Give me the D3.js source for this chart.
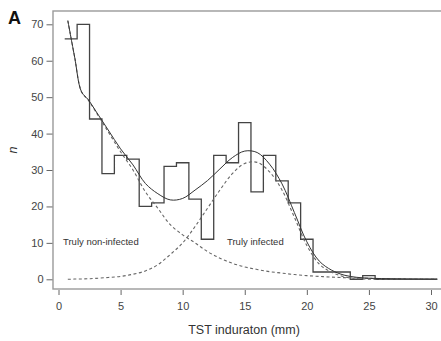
<!DOCTYPE html>
<html>
<head>
<meta charset="utf-8">
<script src="https://cdn.jsdelivr.net/npm/d3@7"></script>
<style>
  body { margin: 0; background: #fff; }
  svg { display: block; font-family: "Liberation Sans", Arial, sans-serif; }
</style>
</head>
<body>
<div id="chart"></div>
<script>
// histogram: bin centres (mm) and counts
const binCentres = [1,2,3,4,5,6,7,8,9,10,11,12,13,14,15,16,17,18,19,20,21,22,23,24,25,26,27,28,29,30];
const counts = [66,70,44,29,34,33,20,21,31,32,22,11,34,32,43,24,34,27,21,11,2,2,2,0,1,0,0,0,0,0];

// fitted curves
const curveX      = [0.75,1.3,1.85,2.4,3,4,5,6,7,8,9,10,11,12,13,14,15,16,17,18,19,20,21,22,23,24,25,26,27,28,29,30,30.5];
const nonInfected = [71,61,51.5,49.2,46,40.5,35,30,24,19.5,15,12.2,10,7.6,5.8,4.4,3.4,2.7,2.1,1.7,1.3,1.0,0.8,0.6,0.45,0.35,0.25,0.2,0.15,0.1,0.08,0.05,0.05];
const infected    = [0,0.07,0.1,0.15,0.25,0.5,0.8,1.4,2.3,4.0,6.8,10.0,14.5,19.5,24.5,29,31.8,32.1,29.5,24.5,17,9.3,4.2,1.9,0.7,0.2,0.05,0,0,0,0,0,0];
const total       = [71,61,51.5,49.3,46.2,41,35.8,31.4,26.3,23.5,21.8,22.2,24.5,27.1,30.3,33.4,35.2,34.8,31.6,26.2,18.3,10.3,5.0,2.5,1.15,0.55,0.3,0.2,0.15,0.1,0.08,0.05,0.05];

const xTicks = [0,5,10,15,20,25,30];
const yTicks = [0,10,20,30,40,50,60,70];

const W = 441, H = 341;
const svg = d3.select("#chart").append("svg")
  .attr("width", W).attr("height", H);

const x = d3.scaleLinear().domain([0, 30]).range([58.5, 431]);
const y = d3.scaleLinear().domain([0, 70]).range([279.3, 24.3]);

const box = { left: 53, top: 11, right: 442, bottom: 289 };

// plot frame
svg.append("rect")
  .attr("x", box.left).attr("y", box.top)
  .attr("width", box.right - box.left).attr("height", box.bottom - box.top)
  .attr("fill", "none").attr("stroke", "#9a9a9a").attr("stroke-width", 1.4);

// axes
const xAxis = svg.append("g")
  .attr("transform", `translate(0,${box.bottom + 1})`)
  .call(d3.axisBottom(x).tickValues(xTicks).tickSize(5).tickPadding(7));
const yAxis = svg.append("g")
  .attr("transform", `translate(${box.left - 0.5},0)`)
  .call(d3.axisLeft(y).tickValues(yTicks).tickSize(6).tickPadding(3));
[xAxis, yAxis].forEach(g => {
  g.select(".domain").remove();
  g.selectAll(".tick line").attr("stroke", "#666");
  g.selectAll(".tick text")
    .attr("fill", "#444")
    .style("font-size", "11px")
    .style("font-family", "Liberation Sans, Arial, sans-serif");
});

// histogram as a step outline
const steps = binCentres.map((c, i) => [c - 0.5, counts[i]]);
steps.push([binCentres[binCentres.length - 1] + 0.5, counts[counts.length - 1]]);
svg.append("path")
  .datum(steps)
  .attr("fill", "none")
  .attr("stroke", "#444")
  .attr("stroke-width", 1.3)
  .attr("d", d3.line().x(d => x(d[0])).y(d => y(d[1])).curve(d3.curveStepAfter));

// curves
const line = d3.line().x(d => x(d[0])).y(d => y(d[1])).curve(d3.curveCatmullRom.alpha(0.5));
function drawCurve(vals, dashed) {
  svg.append("path")
    .datum(curveX.map((cx, i) => [cx, vals[i]]))
    .attr("fill", "none")
    .attr("stroke", dashed ? "#666" : "#333")
    .attr("stroke-width", dashed ? 1.1 : 1)
    .attr("stroke-dasharray", dashed ? "3,2.5" : null)
    .attr("d", line);
}
drawCurve(nonInfected, true);
drawCurve(infected, true);
drawCurve(total, false);

// annotations
svg.append("text")
  .attr("x", 63).attr("y", 245)
  .attr("fill", "#333")
  .style("font-size", "9.5px")
  .text("Truly non-infected");
svg.append("text")
  .attr("x", 227).attr("y", 245)
  .attr("fill", "#333")
  .style("font-size", "9.5px")
  .text("Truly infected");

// axis titles
svg.append("text")
  .attr("x", 244).attr("y", 334)
  .attr("text-anchor", "middle")
  .attr("fill", "#333")
  .style("font-size", "12.5px")
  .text("TST induraton (mm)");
svg.append("text")
  .attr("transform", "translate(17,150) rotate(-90)")
  .attr("text-anchor", "middle")
  .attr("fill", "#333")
  .style("font-size", "12.5px")
  .style("font-style", "italic")
  .text("n");

// panel letter
svg.append("text")
  .attr("x", 8).attr("y", 24)
  .attr("fill", "#111")
  .style("font-size", "18px")
  .style("font-weight", "bold")
  .text("A");
</script>
</body>
</html>
